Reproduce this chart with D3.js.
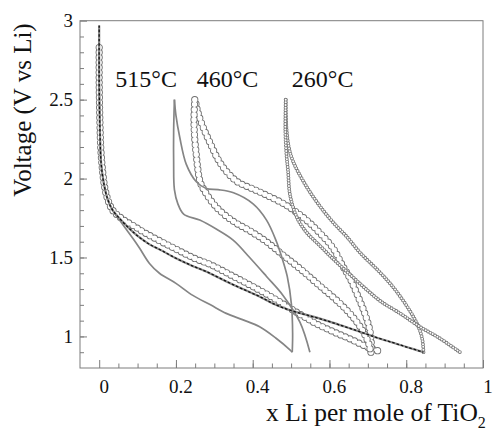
<!DOCTYPE html>
<html>
<head>
<meta charset="utf-8">
<script src="https://cdn.jsdelivr.net/npm/d3@7"></script>
<style>
  body { margin: 0; background: #fff; }
  svg text { font-family: "Liberation Serif", "Times New Roman", serif; fill: #111; }
</style>
</head>
<body>
<div id="chart"></div>
<script>
// Tick values
var xTicks = [0, 0.2, 0.4, 0.6, 0.8, 1];
var yTicks = [1, 1.5, 2, 2.5, 3];
var tempLabels = ["515°C", "460°C", "260°C"];

// 460°C : big open circles  [x Li, voltage]
var d1_460 = [[0,2.83],[0,2.6],[0.002,2.35],[0.004,2.2],[0.008,2.07],[0.014,1.95],[0.022,1.87],[0.035,1.8],[0.06,1.745],[0.09,1.7],[0.12,1.655],[0.162,1.6],[0.205,1.547],[0.249,1.494],[0.29,1.455],[0.35,1.38],[0.418,1.293],[0.47,1.22],[0.523,1.14],[0.566,1.08],[0.61,1.03],[0.653,0.985],[0.697,0.935],[0.737,0.9]];
var c1_460 = [[0.708,0.9],[0.709,0.95],[0.705,1.04],[0.692,1.146],[0.675,1.25],[0.653,1.37],[0.636,1.44],[0.609,1.56],[0.575,1.655],[0.54,1.737],[0.488,1.83],[0.436,1.895],[0.4,1.935],[0.36,1.98],[0.33,2.05],[0.31,2.12],[0.29,2.22],[0.27,2.33],[0.256,2.43],[0.25,2.5]];
var d2_460 = [[0.249,2.5],[0.247,2.37],[0.249,2.25],[0.253,2.15],[0.257,2.06],[0.263,1.98],[0.275,1.92],[0.305,1.82],[0.349,1.73],[0.392,1.67],[0.436,1.6],[0.479,1.515],[0.523,1.43],[0.575,1.32],[0.627,1.21],[0.662,1.12],[0.688,1.03],[0.703,0.95],[0.707,0.9]];

// 260°C : first discharge dashed, then small circles
var d1_260 = [[0,2.97],[0,2.6],[0.002,2.3],[0.005,2.1],[0.012,1.97],[0.022,1.87],[0.035,1.8],[0.057,1.737],[0.08,1.68],[0.101,1.635],[0.13,1.585],[0.162,1.545],[0.2,1.495],[0.24,1.45],[0.28,1.41],[0.33,1.35],[0.374,1.3],[0.42,1.25],[0.46,1.2],[0.505,1.16],[0.55,1.13],[0.592,1.1],[0.636,1.065],[0.679,1.03],[0.72,0.995],[0.766,0.96],[0.805,0.93],[0.845,0.9]];
var c1_260 = [[0.845,0.9],[0.842,0.98],[0.832,1.06],[0.81,1.16],[0.77,1.3],[0.73,1.41],[0.68,1.53],[0.644,1.635],[0.618,1.7],[0.583,1.8],[0.54,1.95],[0.505,2.11],[0.494,2.2],[0.488,2.32],[0.486,2.5]];
var d2_260 = [[0.486,2.5],[0.485,2.3],[0.488,2.15],[0.492,2.05],[0.497,1.9],[0.514,1.76],[0.54,1.66],[0.575,1.575],[0.61,1.49],[0.65,1.4],[0.7,1.29],[0.735,1.22],[0.784,1.146],[0.836,1.061],[0.888,0.987],[0.94,0.9]];

// 515°C : thin lines
var d1_515 = [[0,2.9],[0,2.6],[0.002,2.3],[0.005,2.1],[0.012,1.97],[0.022,1.87],[0.035,1.8],[0.053,1.737],[0.07,1.68],[0.088,1.62],[0.105,1.56],[0.131,1.462],[0.157,1.4],[0.2,1.336],[0.244,1.26],[0.29,1.2],[0.331,1.146],[0.375,1.105],[0.418,1.061],[0.46,0.99],[0.497,0.915],[0.503,0.9]];
var c1_515 = [[0.503,0.9],[0.504,1.02],[0.501,1.2],[0.49,1.38],[0.476,1.5],[0.462,1.6],[0.436,1.737],[0.401,1.84],[0.35,1.91],[0.31,1.93],[0.279,1.937],[0.253,1.98],[0.227,2.09],[0.21,2.26],[0.2,2.4],[0.196,2.5]];
var d2_515 = [[0.196,2.5],[0.194,2.3],[0.194,2.1],[0.196,1.93],[0.205,1.84],[0.22,1.775],[0.262,1.737],[0.305,1.68],[0.349,1.61],[0.392,1.5],[0.436,1.38],[0.479,1.26],[0.523,1.09],[0.549,0.9]];

// Layout
var W = 493, H = 442;
var margin = {top: 20.7, right: 10, bottom: 74, left: 80},
    width = W - margin.left - margin.right,
    height = H - margin.top - margin.bottom;

var svg = d3.select("#chart").append("svg")
    .attr("width", W)
    .attr("height", H);

var g = svg.append("g")
    .attr("transform", "translate(" + margin.left + "," + margin.top + ")");

var x = d3.scaleLinear().domain([-0.05, 1]).range([0, width]);
var y = d3.scaleLinear().domain([0.8, 3]).range([height, 0]);

var line = d3.line()
    .x(function(d) { return x(d[0]); })
    .y(function(d) { return y(d[1]); })
    .curve(d3.curveCatmullRom.alpha(0.5));

var axisColor = "#7d7d7d";

// Minor ticks
g.append("g")
    .attr("transform", "translate(0," + height + ")")
    .call(d3.axisBottom(x).tickValues(d3.range(0.05, 1, 0.05)).tickSize(-4.5).tickFormat(""))
    .call(function(a) { a.select(".domain").remove(); a.selectAll("line").attr("stroke", axisColor); });
g.append("g")
    .call(d3.axisLeft(y).tickValues(d3.range(0.9, 3, 0.1)).tickSize(-4).tickFormat(""))
    .call(function(a) { a.select(".domain").remove(); a.selectAll("line").attr("stroke", axisColor); });

// Major ticks + labels
g.append("g")
    .attr("transform", "translate(0," + height + ")")
    .call(d3.axisBottom(x).tickValues(xTicks).tickSize(-8).tickPadding(11.5).tickFormat(d3.format("")))
    .call(function(a) {
        a.select(".domain").remove();
        a.selectAll("line").attr("stroke", axisColor);
        a.selectAll("text").attr("font-size", 19).attr("dx", 4.5)
            .style("font-family", "'Liberation Serif', serif");
    });
g.append("g")
    .call(d3.axisLeft(y).tickValues(yTicks).tickSize(-7).tickPadding(7).tickFormat(d3.format("")))
    .call(function(a) {
        a.select(".domain").remove();
        a.selectAll("line").attr("stroke", axisColor);
        a.selectAll("text").attr("font-size", 19)
            .style("font-family", "'Liberation Serif', serif");
    });

// Frame
g.append("rect")
    .attr("width", width)
    .attr("height", height)
    .attr("fill", "none")
    .attr("stroke", axisColor)
    .attr("stroke-width", 1);

var clip = g.append("clipPath").attr("id", "plotclip");
clip.append("rect").attr("width", width).attr("height", height);
var plot = g.append("g").attr("clip-path", "url(#plotclip)");

// Open-circle chains: outer grey dots, then white centres
function circleChain(data, r, gap, color) {
    plot.append("path").datum(data)
        .attr("d", line).attr("fill", "none")
        .attr("stroke", color).attr("stroke-width", 2 * r)
        .attr("stroke-linecap", "round").attr("stroke-dasharray", "0 " + gap);
    plot.append("path").datum(data)
        .attr("d", line).attr("fill", "none")
        .attr("stroke", "#fff").attr("stroke-width", 2 * r - 1.8)
        .attr("stroke-linecap", "round").attr("stroke-dasharray", "0 " + gap);
}

// 460°C big circles
[d1_460, c1_460, d2_460].forEach(function(s) { circleChain(s, 3.6, 5, "#6f6f6f"); });

// 260°C small circles
[c1_260, d2_260].forEach(function(s) { circleChain(s, 1.9, 2.7, "#777"); });

// 515°C thin lines
[d1_515, c1_515, d2_515].forEach(function(s) {
    plot.append("path").datum(s)
        .attr("d", line).attr("fill", "none")
        .attr("stroke", "#858585").attr("stroke-width", 1.7);
});

// 260°C first discharge, dashed black
plot.append("path").datum(d1_260)
    .attr("d", line).attr("fill", "none")
    .attr("stroke", "#8a8a8a").attr("stroke-width", 2.2);
plot.append("path").datum(d1_260)
    .attr("d", line).attr("fill", "none")
    .attr("stroke", "#111").attr("stroke-width", 1.3)
    .attr("stroke-dasharray", "2.5 2");

// Temperature labels
var labelX = [0.042, 0.254, 0.502];
g.selectAll(".temp")
    .data(tempLabels)
    .enter().append("text")
    .attr("class", "temp")
    .attr("x", function(d, i) { return x(labelX[i]); })
    .attr("y", y(2.58))
    .attr("font-size", 24)
    .text(function(d) { return d; });

// Axis titles
svg.append("text")
    .attr("transform", "translate(31,110) rotate(-90)")
    .attr("text-anchor", "middle")
    .attr("font-size", 25)
    .text("Voltage (V vs Li)");

var xt = svg.append("text")
    .attr("x", 266)
    .attr("y", 421)
    .attr("font-size", 25.5);
xt.append("tspan").text("x Li per mole of TiO");
xt.append("tspan").attr("font-size", 16).attr("dy", 7).text("2");
</script>
</body>
</html>
